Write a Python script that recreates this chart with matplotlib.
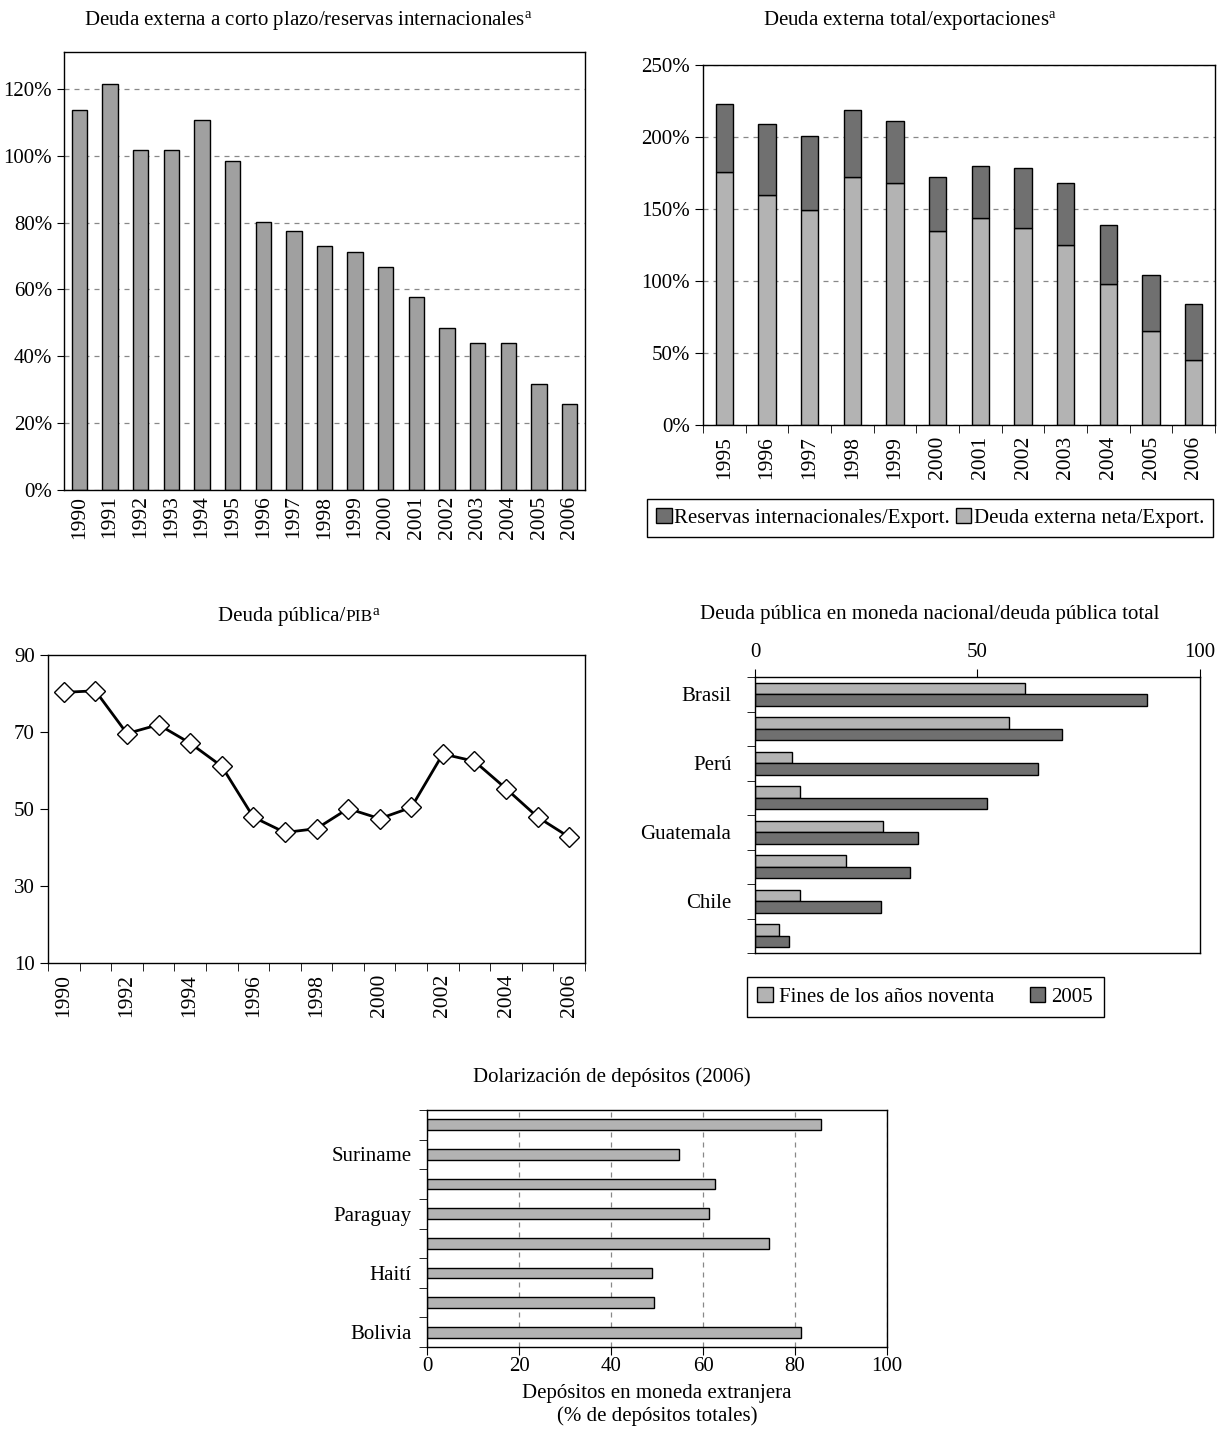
import numpy as np
import matplotlib
matplotlib.use("Agg")
import matplotlib.pyplot as plt
from matplotlib.patches import Patch

plt.rcParams['font.family'] = ['Liberation Serif', 'DejaVu Serif']
plt.rcParams['mathtext.fontset'] = 'custom'
plt.rcParams['mathtext.rm'] = 'Liberation Serif'
plt.rcParams['mathtext.it'] = 'Liberation Serif:italic'

# ____________________________________________ DATA ____________________________________________ #
# short-term external debt / international reserves (%)
years_st = ['1990', '1991', '1992', '1993', '1994', '1995', '1996', '1997', '1998',
            '1999', '2000', '2001', '2002', '2003', '2004', '2005', '2006']
st_ratio = [113.7, 121.4, 101.6, 101.6, 110.7, 98.5, 80.3, 77.4, 72.9,
            71.3, 66.8, 57.7, 48.6, 44.0, 44.0, 31.8, 25.7]

# total external debt / exports (%), split in net debt + reserves
years_tot = ['1995', '1996', '1997', '1998', '1999', '2000',
             '2001', '2002', '2003', '2004', '2005', '2006']
net_debt = [176, 160, 149.5, 172, 168, 135, 143.6, 137, 125, 98, 65, 45]
reserves = [47, 49, 51, 47, 43, 37, 36, 41.5, 43, 41, 39.5, 39]

# public debt / GDP
years_pub = years_st
pub_debt = [80.3, 80.7, 69.6, 71.9, 67.1, 61.1, 47.9, 43.9, 44.9,
            50.1, 47.5, 50.4, 64.3, 62.4, 55.3, 47.9, 42.7]

# public debt in national currency / total public debt
countries_nat = ['Brasil', '', 'Perú', '', 'Guatemala', '', 'Chile', '']
nat_late90s = [60.6, 57.0, 8.4, 10.2, 28.8, 20.4, 10.2, 5.4]
nat_2005 = [88.0, 68.9, 63.5, 52.2, 36.7, 34.8, 28.3, 7.7]

# deposit dollarization (2006)
countries_dol = ['', 'Suriname', '', 'Paraguay', '', 'Haití', '', 'Bolivia']
dollarization = [85.6, 54.7, 62.7, 61.3, 74.3, 48.9, 49.3, 81.2]

# ____________________________________________ STYLE ____________________________________________ #
W, H = 1219, 1432
TICK_FS = 15                 # y tick labels / category names
YEAR_FS = 15.5               # rotated year labels
TITLE_FS = 15
MID_GRAY = '#a0a0a0'
LIGHT = '#b3b3b3'
DARK = '#707070'
GRID = dict(color='#888888', linestyle=(0, (4, 4)), linewidth=0.9)


def frac(l, t, r, b):                       # pixel box -> figure fraction
    return [l / W, 1 - b / H, (r - l) / W, (b - t) / H]


def frame(ax):
    for s in ax.spines.values():
        s.set_color('black')
        s.set_linewidth(1.0)


fig = plt.figure(figsize=(W / 100, H / 100), dpi=100)

# ______________________________________ TOP LEFT ______________________________________ #
ax1 = fig.add_axes(frac(64, 52, 585, 490))
x1 = np.arange(len(years_st))
ax1.bar(x1, st_ratio, width=0.5, color=MID_GRAY, edgecolor='black', linewidth=1)
ax1.set_xlim(-0.5, len(years_st) - 0.5)
ax1.set_ylim(0, 131)
ax1.set_yticks(np.arange(0, 121, 20))
ax1.set_yticklabels(['%d%%' % v for v in range(0, 121, 20)])
ax1.set_xticks(x1)
ax1.set_xticklabels(years_st, rotation=90)
ax1.tick_params(axis='x', length=0, labelsize=YEAR_FS, pad=4)
ax1.tick_params(axis='y', length=5, direction='out', labelsize=TICK_FS)
ax1.yaxis.grid(True, **GRID)
ax1.set_axisbelow(True)
frame(ax1)
fig.text(308 / W, 1 - 20 / H, 'Deuda externa a corto plazo/reservas internacionales$^{\\mathrm{a}}$',
         ha='center', va='center', fontsize=TITLE_FS)

# ______________________________________ TOP RIGHT ______________________________________ #
ax2 = fig.add_axes(frac(703, 65, 1215, 425))
x2 = np.arange(len(years_tot))
ax2.bar(x2, net_debt, width=0.4, color=LIGHT, edgecolor='black', linewidth=1)
ax2.bar(x2, reserves, width=0.4, bottom=net_debt, color=DARK, edgecolor='black', linewidth=1)
ax2.set_xlim(-0.5, len(years_tot) - 0.5)
ax2.set_ylim(0, 250)
ax2.set_yticks(np.arange(0, 251, 50))
ax2.set_yticklabels(['%d%%' % v for v in range(0, 251, 50)])
ax2.set_xticks(x2)
ax2.set_xticklabels(years_tot, rotation=90)
ax2.set_xticks(np.arange(-0.5, len(years_tot)), minor=True)
ax2.tick_params(axis='x', which='major', length=0, labelsize=YEAR_FS, pad=8)
ax2.tick_params(axis='x', which='minor', length=6, direction='out')
ax2.tick_params(axis='y', length=6, direction='out', labelsize=TICK_FS)
ax2.yaxis.grid(True, **GRID)
ax2.set_axisbelow(True)
frame(ax2)
fig.text(910 / W, 1 - 20 / H, 'Deuda externa total/exportaciones$^{\\mathrm{a}}$',
         ha='center', va='center', fontsize=TITLE_FS)
fig.legend([Patch(facecolor=DARK, edgecolor='black'), Patch(facecolor=LIGHT, edgecolor='black')],
           ['Reservas internacionales/Export.', 'Deuda externa neta/Export.'],
           loc='center', bbox_to_anchor=(930 / W, 1 - 518 / H), ncol=2, frameon=True,
           fancybox=False, edgecolor='black', framealpha=1, fontsize=TITLE_FS,
           handlelength=0.75, handleheight=0.75, handletextpad=0.1, columnspacing=0.3,
           borderpad=0.45, borderaxespad=0)

# ______________________________________ MIDDLE LEFT ______________________________________ #
ax3 = fig.add_axes(frac(48, 655, 585, 963))
x3 = np.arange(len(years_pub))
ax3.plot(x3, pub_debt, color='black', linewidth=2, marker='D', markersize=10.5,
         markerfacecolor='white', markeredgecolor='black', markeredgewidth=1)
ax3.set_xlim(-0.5, len(years_pub) - 0.5)
ax3.set_ylim(10, 90)
ax3.set_yticks(np.arange(10, 91, 20))
ax3.set_xticks(x3[::2])
ax3.set_xticklabels(years_pub[::2], rotation=90)
ax3.set_xticks(np.arange(-0.5, len(years_pub)), minor=True)
ax3.tick_params(axis='x', which='major', length=0, labelsize=YEAR_FS, pad=8)
ax3.tick_params(axis='x', which='minor', length=6, direction='out')
ax3.tick_params(axis='y', length=6, direction='out', labelsize=TICK_FS)
frame(ax3)
# title with small-caps "PIB" and superscript note mark
base_y = 1 - 621 / H
t1 = fig.text(218 / W, base_y, 'Deuda pública/', ha='left', va='baseline', fontsize=TITLE_FS)
t2 = ax3.annotate('PIB', xy=(1, base_y), xycoords=(t1, 'figure fraction'), ha='left',
                  va='baseline', fontsize=12.5, annotation_clip=False)
ax3.annotate('a', xy=(1, base_y + 6 / H), xycoords=(t2, 'figure fraction'), ha='left',
             va='baseline', fontsize=11, annotation_clip=False)

# ______________________________________ MIDDLE RIGHT ______________________________________ #
ax4 = fig.add_axes(frac(755, 677, 1200, 953))
y4 = np.arange(len(countries_nat))
ax4.barh(y4 - 0.165, nat_late90s, height=0.33, color=LIGHT, edgecolor='black', linewidth=1)
ax4.barh(y4 + 0.165, nat_2005, height=0.33, color=DARK, edgecolor='black', linewidth=1)
ax4.set_ylim(len(countries_nat) - 0.5, -0.5)
ax4.set_xlim(0, 100)
ax4.set_xticks([0, 50, 100])
ax4.xaxis.tick_top()
ax4.set_yticks(y4)
ax4.set_yticklabels(countries_nat)
ax4.set_yticks(np.arange(-0.5, len(countries_nat)), minor=True)
ax4.tick_params(axis='y', which='major', length=0, labelsize=TICK_FS, pad=17)
ax4.tick_params(axis='y', which='minor', length=6, direction='out')
ax4.tick_params(axis='x', length=6, direction='out', labelsize=TICK_FS, pad=5)
frame(ax4)
fig.text(930 / W, 1 - 614 / H, 'Deuda pública en moneda nacional/deuda pública total',
         ha='center', va='center', fontsize=TITLE_FS)
fig.legend([Patch(facecolor=LIGHT, edgecolor='black'), Patch(facecolor=DARK, edgecolor='black')],
           ['Fines de los años noventa', '2005'],
           loc='center', bbox_to_anchor=(925 / W, 1 - 997 / H), ncol=2, frameon=True,
           fancybox=False, edgecolor='black', framealpha=1, fontsize=TITLE_FS,
           handlelength=0.75, handleheight=0.75, handletextpad=0.3, columnspacing=1.7,
           borderpad=0.5, borderaxespad=0)

# ______________________________________ BOTTOM ______________________________________ #
ax5 = fig.add_axes(frac(427, 1110, 887, 1347))
y5 = np.arange(len(countries_dol))
ax5.barh(y5, dollarization, height=0.36, color=LIGHT, edgecolor='black', linewidth=1)
ax5.set_ylim(len(countries_dol) - 0.5, -0.5)
ax5.set_xlim(0, 100)
ax5.set_xticks(np.arange(0, 101, 20))
ax5.set_yticks(y5)
ax5.set_yticklabels(countries_dol)
ax5.set_yticks(np.arange(-0.5, len(countries_dol)), minor=True)
ax5.tick_params(axis='y', which='major', length=0, labelsize=TICK_FS, pad=11)
ax5.tick_params(axis='y', which='minor', length=6, direction='out')
ax5.tick_params(axis='x', length=6, direction='out', labelsize=TICK_FS, pad=1)
ax5.xaxis.grid(True, **GRID)
ax5.set_axisbelow(True)
frame(ax5)
ax5.set_xlabel('Depósitos en moneda extranjera\n(% de depósitos totales)', fontsize=TITLE_FS,
               labelpad=6, linespacing=1.2)
fig.text(612 / W, 1 - 1077 / H, 'Dolarización de depósitos (2006)',
         ha='center', va='center', fontsize=TITLE_FS)

fig.savefig('out.png', dpi=100, facecolor='white')
